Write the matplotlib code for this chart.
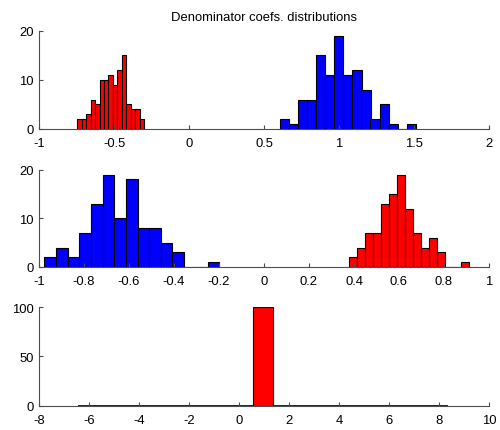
import matplotlib
matplotlib.use('Agg')
import matplotlib.pyplot as plt
from matplotlib.ticker import FormatStrFormatter

# top panel
top_red_x = [-0.730, -0.700, -0.671, -0.641, -0.611, -0.581, -0.551, -0.522,
             -0.492, -0.462, -0.432, -0.402, -0.373, -0.343, -0.313]
top_red_n = [2, 2, 3, 6, 5, 10, 10, 11, 9, 12, 15, 5, 4, 4, 2]
top_blue_x = [0.637, 0.698, 0.758, 0.818, 0.878, 0.939, 0.999, 1.059,
              1.120, 1.180, 1.240, 1.301, 1.361, 1.421, 1.481]
top_blue_n = [2, 1, 6, 6, 15, 11, 19, 11, 12, 8, 2, 5, 1, 0, 1]

# middle panel
mid_blue_x = [-0.950, -0.898, -0.847, -0.795, -0.743, -0.691, -0.640, -0.588,
              -0.536, -0.484, -0.433, -0.381, -0.329, -0.277, -0.225]
mid_blue_n = [2, 4, 2, 7, 13, 19, 10, 18, 8, 8, 5, 3, 0, 0, 1]
mid_red_x = [0.394, 0.430, 0.465, 0.501, 0.536, 0.572, 0.608, 0.643,
             0.679, 0.714, 0.750, 0.785, 0.821, 0.857, 0.892]
mid_red_n = [2, 4, 7, 7, 13, 15, 19, 12, 7, 4, 6, 3, 0, 0, 1]

# bottom panel
bot_zero_x = [-6.07, -5.33, -4.59, -3.85, -3.11, -2.37, -1.63, -0.89, -0.15, 0.59,
              1.33, 2.07, 2.81, 3.55, 4.29, 5.03, 5.77, 6.51, 7.25, 7.99]
bot_zero_n = [0] * 20
bot_red_x = [0.97]
bot_red_n = [100]

plt.rcParams['font.family'] = ['Liberation Sans', 'DejaVu Sans']
FS = 9.4

fig = plt.figure(figsize=(5.0, 4.31), dpi=100)


def style(ax, xlim, xticks, ylim, yticks):
    ax.set_xlim(xlim)
    ax.set_ylim(ylim)
    ax.set_xticks(xticks)
    ax.set_yticks(yticks)
    ax.xaxis.set_major_formatter(FormatStrFormatter('%g'))
    ax.yaxis.set_major_formatter(FormatStrFormatter('%g'))
    for s in ['top', 'right']:
        ax.spines[s].set_visible(False)
    for s in ['left', 'bottom']:
        ax.spines[s].set_color('0.3')
        ax.spines[s].set_linewidth(0.8)
    ax.tick_params(direction='in', length=3, width=0.8, color='0.3', labelsize=FS)
    ax.tick_params(axis='x', pad=6)
    ax.tick_params(axis='y', pad=4)


ax1 = fig.add_axes([0.078, 0.6984, 0.9, 0.228])
ax1.bar(top_red_x, top_red_n, width=0.0298, color='#ff0000', edgecolor='black', linewidth=0.8)
ax1.bar(top_blue_x, top_blue_n, width=0.0603, color='#0000ff', edgecolor='black', linewidth=0.8)
style(ax1, (-1, 2), [-1, -0.5, 0, 0.5, 1, 1.5, 2], (0, 20), [0, 10, 20])
ax1.set_title('Denominator coefs. distributions', fontsize=FS, pad=8)

ax2 = fig.add_axes([0.078, 0.3782, 0.9, 0.2258])
ax2.bar(mid_blue_x, mid_blue_n, width=0.0518, color='#0000ff', edgecolor='black', linewidth=0.8)
ax2.bar(mid_red_x, mid_red_n, width=0.0356, color='#ff0000', edgecolor='black', linewidth=0.8)
style(ax2, (-1, 1), [-1, -0.8, -0.6, -0.4, -0.2, 0, 0.2, 0.4, 0.6, 0.8, 1], (0, 20), [0, 10, 20])

ax3 = fig.add_axes([0.078, 0.0564, 0.9, 0.2283])
ax3.bar(bot_zero_x, bot_zero_n, width=0.74, color='#ff0000', edgecolor='black', linewidth=1.2)
ax3.bar(bot_red_x, bot_red_n, width=0.8, color='#ff0000', edgecolor='black', linewidth=0.8)
style(ax3, (-8, 10), list(range(-8, 11, 2)), (0, 100), [0, 50, 100])

fig.savefig('out.png', dpi=100)
